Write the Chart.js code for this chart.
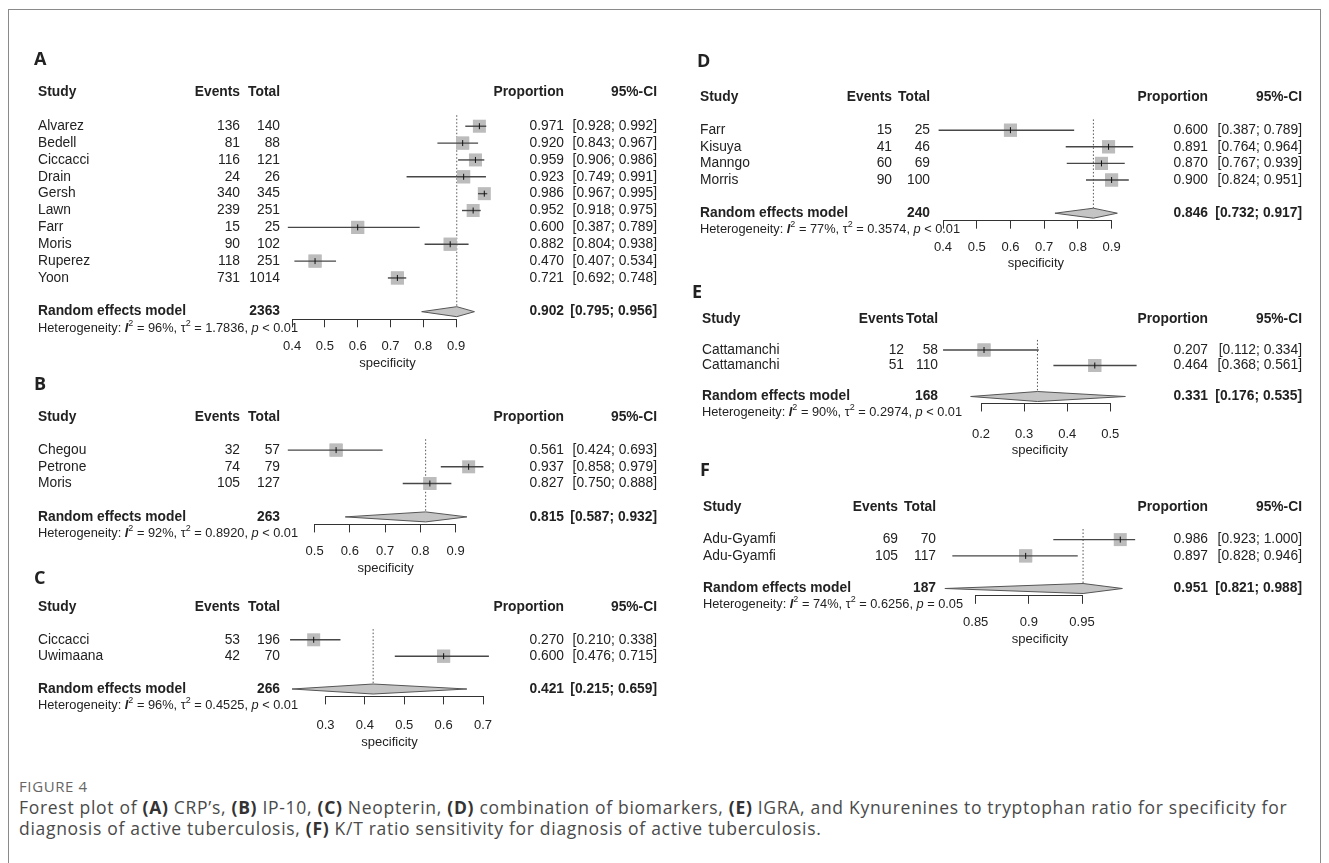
<!DOCTYPE html>
<html>
<head>
<meta charset="utf-8">
<script src="https://cdn.jsdelivr.net/npm/chart.js@4.4.1/dist/chart.umd.min.js"></script>
<style>
body{margin:0;background:#fff;width:1329px;height:863px;overflow:hidden;position:relative}
#frame{position:absolute;left:8px;top:9px;width:1313px;height:900px;border:1px solid #8a8a8a;box-sizing:border-box}
#cap{position:absolute;left:19px;top:776px;font-family:"Open Sans",sans-serif;color:#4a4a4a}
#cap .fig{font-size:15px;letter-spacing:0.6px;color:#666;line-height:20px}
#cap .txt{font-size:17.5px;letter-spacing:0.7px;line-height:21px;margin-top:1px;white-space:nowrap}
#cap b{color:#333;font-weight:700}
</style>
</head>
<body>
<div id="frame"></div>
<div id="cap">
  <div class="fig">FIGURE 4</div>
  <div class="txt">Forest plot of <b>(A)</b> CRP’s, <b>(B)</b> IP-10, <b>(C)</b> Neopterin, <b>(D)</b> combination of biomarkers, <b>(E)</b> IGRA, and Kynurenines to tryptophan ratio for specificity for<br>diagnosis of active tuberculosis, <b>(F)</b> K/T ratio sensitivity for diagnosis of active tuberculosis.</div>
</div>
<script>
// forest plots, specificity meta-analysis
// data per panel

// A - CRP
var studyA = ['Alvarez', 'Bedell', 'Ciccacci', 'Drain', 'Gersh', 'Lawn', 'Farr', 'Moris', 'Ruperez', 'Yoon'];
var eventsA = [136, 81, 116, 24, 340, 239, 15, 90, 118, 731];
var totalA = [140, 88, 121, 26, 345, 251, 25, 102, 251, 1014];
var propA = [0.971, 0.920, 0.959, 0.923, 0.986, 0.952, 0.600, 0.882, 0.470, 0.721];
var lowerA = [0.928, 0.843, 0.906, 0.749, 0.967, 0.918, 0.387, 0.804, 0.407, 0.692];
var upperA = [0.992, 0.967, 0.986, 0.991, 0.995, 0.975, 0.789, 0.938, 0.534, 0.748];
var pooledA = [0.902, 0.795, 0.956];
var sumA = 2363;
var hetA = ['96%', '1.7836', '< 0.01'];
var ticksA = [0.4, 0.5, 0.6, 0.7, 0.8, 0.9];

// B - IP-10
var studyB = ['Chegou', 'Petrone', 'Moris'];
var eventsB = [32, 74, 105];
var totalB = [57, 79, 127];
var propB = [0.561, 0.937, 0.827];
var lowerB = [0.424, 0.858, 0.750];
var upperB = [0.693, 0.979, 0.888];
var pooledB = [0.815, 0.587, 0.932];
var sumB = 263;
var hetB = ['92%', '0.8920', '< 0.01'];
var ticksB = [0.5, 0.6, 0.7, 0.8, 0.9];

// C - Neopterin
var studyC = ['Ciccacci', 'Uwimaana'];
var eventsC = [53, 42];
var totalC = [196, 70];
var propC = [0.270, 0.600];
var lowerC = [0.210, 0.476];
var upperC = [0.338, 0.715];
var pooledC = [0.421, 0.215, 0.659];
var sumC = 266;
var hetC = ['96%', '0.4525', '< 0.01'];
var ticksC = [0.3, 0.4, 0.5, 0.6, 0.7];

// D - combination of biomarkers
var studyD = ['Farr', 'Kisuya', 'Manngo', 'Morris'];
var eventsD = [15, 41, 60, 90];
var totalD = [25, 46, 69, 100];
var propD = [0.600, 0.891, 0.870, 0.900];
var lowerD = [0.387, 0.764, 0.767, 0.824];
var upperD = [0.789, 0.964, 0.939, 0.951];
var pooledD = [0.846, 0.732, 0.917];
var sumD = 240;
var hetD = ['77%', '0.3574', '< 0.01'];
var ticksD = [0.4, 0.5, 0.6, 0.7, 0.8, 0.9];

// E - IGRA
var studyE = ['Cattamanchi', 'Cattamanchi'];
var eventsE = [12, 51];
var totalE = [58, 110];
var propE = [0.207, 0.464];
var lowerE = [0.112, 0.368];
var upperE = [0.334, 0.561];
var pooledE = [0.331, 0.176, 0.535];
var sumE = 168;
var hetE = ['90%', '0.2974', '< 0.01'];
var ticksE = [0.2, 0.3, 0.4, 0.5];

// F - K/T ratio
var studyF = ['Adu-Gyamfi', 'Adu-Gyamfi'];
var eventsF = [69, 105];
var totalF = [70, 117];
var propF = [0.986, 0.897];
var lowerF = [0.923, 0.828];
var upperF = [1.000, 0.946];
var pooledF = [0.951, 0.821, 0.988];
var sumF = 187;
var hetF = ['74%', '0.6256', '= 0.05'];
var ticksF = [0.85, 0.9, 0.95];

var FONT = '"Liberation Sans", Arial, sans-serif';
var INK = '#222';
var AXIS = '#333';
var XH = 60; // height of x axis box

// where each panel sits on the page
var leftCols = [38, 240, 280, 564, 657];
var panels = [
  {id: 'A', study: studyA, events: eventsA, total: totalA, prop: propA, lower: lowerA, upper: upperA, pooled: pooledA, sum: sumA, het: hetA, ticks: ticksA,
   box: {left: 28, width: 640, letterX: 34, letterY: 60, headerY: 92.5, rowH: 16.86, axisL: 292.1, axisR: 456.1, tickPad: 11, specOff: 44, cols: leftCols}},
  {id: 'B', study: studyB, events: eventsB, total: totalB, prop: propB, lower: lowerB, upper: upperB, pooled: pooledB, sum: sumB, het: hetB, ticks: ticksB,
   box: {left: 28, width: 640, letterX: 34, letterY: 385, headerY: 416.7, rowH: 16.7, axisL: 314.6, axisR: 455.6, tickPad: 11, specOff: 44, cols: leftCols}},
  {id: 'C', study: studyC, events: eventsC, total: totalC, prop: propC, lower: lowerC, upper: upperC, pooled: pooledC, sum: sumC, het: hetC, ticks: ticksC,
   box: {left: 28, width: 640, letterX: 34, letterY: 579, headerY: 607, rowH: 16.4, axisL: 325.5, axisR: 483, tickPad: 13, specOff: 46, cols: leftCols}},
  {id: 'D', study: studyD, events: eventsD, total: totalD, prop: propD, lower: lowerD, upper: upperD, pooled: pooledD, sum: sumD, het: hetD, ticks: ticksD,
   box: {left: 680, width: 636, letterX: 697, letterY: 62, headerY: 97, rowH: 16.6, axisL: 943, axisR: 1111.6, tickPad: 11, specOff: 43, cols: [700, 892, 930, 1208, 1302]}},
  {id: 'E', study: studyE, events: eventsE, total: totalE, prop: propE, lower: lowerE, upper: upperE, pooled: pooledE, sum: sumE, het: hetE, ticks: ticksE,
   box: {left: 680, width: 636, letterX: 692, letterY: 293, headerY: 319, rowH: 15.5, axisL: 981, axisR: 1110.3, tickPad: 15, specOff: 47, cols: [702, 904, 938, 1208, 1302]}},
  {id: 'F', study: studyF, events: eventsF, total: totalF, prop: propF, lower: lowerF, upper: upperF, pooled: pooledF, sum: sumF, het: hetF, ticks: ticksF,
   box: {left: 680, width: 636, letterX: 700, letterY: 471, headerY: 507, rowH: 16.3, axisL: 975.7, axisR: 1082, tickPad: 11, specOff: 44, cols: [703, 898, 936, 1208, 1302]}}
];

function ciText(lo, hi) {
  return '[' + lo.toFixed(3) + '; ' + hi.toFixed(3) + ']';
}

// text with italic letters and superscripts, left to right
function richText(ctx, x, y, parts, size) {
  parts.forEach(function(pt) {
    var s = pt.sup ? size * 0.7 : size;
    ctx.font = (pt.st || '') + ' ' + s + 'px ' + FONT;
    ctx.fillText(pt.t, x, pt.sup ? y - size * 0.38 : y);
    x += ctx.measureText(pt.t).width;
  });
}

function forestPlugin(p) {
  var b = p.box, n = p.study.length;
  return {
    id: 'forest' + p.id,
    beforeDatasetsDraw: function(chart) {
      var ctx = chart.ctx, sx = chart.scales.x, sy = chart.scales.y;
      var x = sx.getPixelForValue(p.pooled[0]);
      ctx.save();
      ctx.strokeStyle = '#555';
      ctx.lineWidth = 1;
      ctx.setLineDash([1.5, 2]);
      ctx.beginPath();
      ctx.moveTo(x, sy.getPixelForValue(-0.65));
      ctx.lineTo(x, sy.getPixelForValue(n + 1));
      ctx.stroke();
      ctx.restore();
    },
    afterDatasetsDraw: function(chart) {
      var ctx = chart.ctx, sx = chart.scales.x, sy = chart.scales.y;
      ctx.save();
      // squares that fall outside the tick range are skipped by chart.js, draw them all again
      var wide = {left: -1e4, top: -1e4, right: 1e4, bottom: 1e4};
      chart.getDatasetMeta(0).data.forEach(function(pt) { pt.draw(ctx, wide); });
      // confidence intervals
      for (var i = 0; i < n; i++) {
        var y = sy.getPixelForValue(i);
        ctx.strokeStyle = '#474747';
        ctx.lineWidth = 1.4;
        ctx.beginPath();
        ctx.moveTo(sx.getPixelForValue(p.lower[i]), y);
        ctx.lineTo(sx.getPixelForValue(p.upper[i]), y);
        ctx.stroke();
        var xe = sx.getPixelForValue(p.prop[i]);
        ctx.strokeStyle = '#111';
        ctx.lineWidth = 1;
        ctx.beginPath();
        ctx.moveTo(xe, y - 3);
        ctx.lineTo(xe, y + 3);
        ctx.stroke();
      }
      // pooled diamond
      var yd = sy.getPixelForValue(n + 1), h = 5;
      ctx.fillStyle = '#c4c4c4';
      ctx.strokeStyle = '#555';
      ctx.lineWidth = 1;
      ctx.beginPath();
      ctx.moveTo(sx.getPixelForValue(p.pooled[1]), yd);
      ctx.lineTo(sx.getPixelForValue(p.pooled[0]), yd - h);
      ctx.lineTo(sx.getPixelForValue(p.pooled[2]), yd);
      ctx.lineTo(sx.getPixelForValue(p.pooled[0]), yd + h);
      ctx.closePath();
      ctx.fill();
      ctx.stroke();
      ctx.restore();
    },
    afterDraw: function(chart) {
      var ctx = chart.ctx, sx = chart.scales.x, sy = chart.scales.y;
      var c = b.cols.map(function(v) { return v - b.left; });
      var top = chart.canvas._pageTop;
      ctx.save();
      ctx.fillStyle = INK;
      ctx.textBaseline = 'middle';
      // panel letter
      ctx.textAlign = 'left';
      ctx.font = 'bold 18px "Open Sans", sans-serif';
      ctx.fillText(p.id, b.letterX - b.left, b.letterY - top);
      // header
      var yh = sy.getPixelForValue(-2);
      ctx.font = 'bold 13.8px ' + FONT;
      ctx.fillText('Study', c[0], yh);
      ctx.textAlign = 'right';
      ctx.fillText('Events', c[1], yh);
      ctx.fillText('Total', c[2], yh);
      ctx.fillText('Proportion', c[3], yh);
      ctx.fillText('95%-CI', c[4], yh);
      // studies
      ctx.font = '13.8px ' + FONT;
      for (var i = 0; i < n; i++) {
        var y = sy.getPixelForValue(i);
        ctx.textAlign = 'left';
        ctx.fillText(p.study[i], c[0], y);
        ctx.textAlign = 'right';
        ctx.fillText(String(p.events[i]), c[1], y);
        ctx.fillText(String(p.total[i]), c[2], y);
        ctx.fillText(p.prop[i].toFixed(3), c[3], y);
        ctx.fillText(ciText(p.lower[i], p.upper[i]), c[4], y);
      }
      // random effects row
      var yr = sy.getPixelForValue(n + 1);
      ctx.font = 'bold 13.8px ' + FONT;
      ctx.textAlign = 'left';
      ctx.fillText('Random effects model', c[0], yr);
      ctx.textAlign = 'right';
      ctx.fillText(String(p.sum), c[2], yr);
      ctx.fillText(p.pooled[0].toFixed(3), c[3], yr);
      ctx.fillText(ciText(p.pooled[1], p.pooled[2]), c[4], yr);
      // heterogeneity
      ctx.textAlign = 'left';
      richText(ctx, c[0], sy.getPixelForValue(n + 2), [
        {t: 'Heterogeneity: '},
        {t: 'I', st: 'italic bold'},
        {t: '2', sup: true},
        {t: ' = ' + p.het[0] + ', '},
        {t: '\u03c4'},
        {t: '2', sup: true},
        {t: ' = ' + p.het[1] + ', '},
        {t: 'p', st: 'italic'},
        {t: ' ' + p.het[2]}
      ], 12.8);
      // axis title, centred on the span of all intervals like R's xlim
      var lo = Math.min.apply(null, p.lower.concat([p.pooled[1]]));
      var hi = Math.max.apply(null, p.upper.concat([p.pooled[2]]));
      ctx.font = '13px ' + FONT;
      ctx.textAlign = 'center';
      ctx.fillText('specificity', (sx.getPixelForValue(lo) + sx.getPixelForValue(hi)) / 2, chart.chartArea.bottom + b.specOff);
      ctx.restore();
    }
  };
}

function drawPanel(p) {
  var b = p.box, n = p.study.length;
  var yMin = -2.6, yMax = n + 1.45;
  var top = Math.round(b.letterY - 16);
  var padTop = b.headerY + (yMin + 2) * b.rowH - top;
  var chartH = (yMax - yMin) * b.rowH;
  var h = Math.ceil(padTop + chartH + XH);
  var padBot = h - (padTop + chartH + XH);

  var cv = document.createElement('canvas');
  cv.width = b.width;
  cv.height = h;
  cv.style.cssText = 'position:absolute;left:' + b.left + 'px;top:' + top + 'px';
  cv._pageTop = top;
  document.body.appendChild(cv);

  return new Chart(cv, {
    type: 'scatter',
    data: {
      datasets: [{
        data: p.prop.map(function(v, i) { return {x: v, y: i}; }),
        pointStyle: 'rect',
        pointRadius: 9.2,
        pointHoverRadius: 9.2,
        pointBackgroundColor: '#bcbcbc',
        pointBorderColor: '#bcbcbc',
        pointBorderWidth: 0,
        clip: false
      }]
    },
    options: {
      responsive: false,
      animation: false,
      events: [],
      layout: {padding: {left: b.axisL - b.left, right: b.left + b.width - b.axisR, top: padTop, bottom: padBot}},
      plugins: {legend: {display: false}, tooltip: {enabled: false}},
      scales: {
        x: {
          type: 'linear',
          min: p.ticks[0],
          max: p.ticks[p.ticks.length - 1],
          afterBuildTicks: function(s) { s.ticks = p.ticks.map(function(v) { return {value: v}; }); },
          afterFit: function(s) { s.height = XH; },
          grid: {drawOnChartArea: false, drawTicks: true, tickLength: 8, color: AXIS, lineWidth: 1},
          border: {display: true, color: AXIS, width: 1},
          ticks: {autoSkip: false, maxRotation: 0, padding: b.tickPad, color: INK, font: {family: FONT, size: 13},
                  callback: function(v) { return String(v); }},
          title: {display: false}
        },
        y: {type: 'linear', display: false, reverse: true, min: yMin, max: yMax}
      }
    },
    plugins: [forestPlugin(p)]
  });
}

panels.forEach(drawPanel);
</script>
</body>
</html>
